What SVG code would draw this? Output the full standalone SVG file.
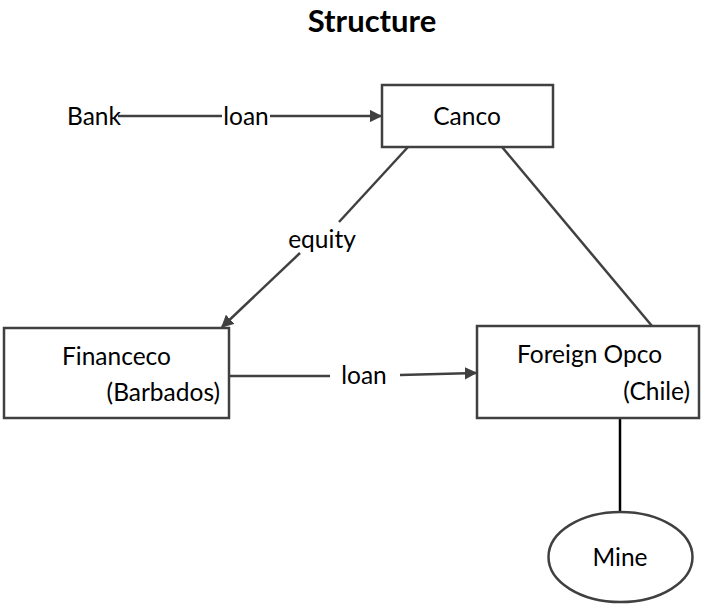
<svg xmlns="http://www.w3.org/2000/svg" width="702" height="605" viewBox="0 0 702 605">
  <style>
    text { font-family: Lato, "Liberation Sans", sans-serif; fill: #000; font-size: 24.5px; }
    .title { font-size: 31px; font-weight: bold; }
    .box { fill: #fff; stroke: #404040; stroke-width: 2.5; }
    .edge { fill: none; stroke: #404040; stroke-width: 2.5; }
  </style>
  <defs>
    <marker id="arrow" viewBox="0 0 10 10" refX="9" refY="5" markerWidth="5" markerHeight="5" orient="auto" markerUnits="strokeWidth">
      <path d="M0,0 L10,5 L0,10 z" fill="#404040"/>
    </marker>
  </defs>
  <rect width="702" height="605" fill="#fff"/>

  <text class="title" x="372" y="32" text-anchor="middle">Structure</text>

  <g id="connectors">
    <!-- Bank to Canco loan -->
    <line class="edge" x1="118" y1="116" x2="222" y2="116"/>
    <line class="edge" x1="270" y1="116" x2="381" y2="116" marker-end="url(#arrow)"/>
    <text x="246" y="125" text-anchor="middle">loan</text>
    <!-- Canco to Financeco equity -->
    <line class="edge" x1="408" y1="147" x2="339" y2="222"/>
    <line class="edge" x1="300" y1="253" x2="222" y2="327" marker-end="url(#arrow)"/>
    <text x="322" y="248" text-anchor="middle">equity</text>
    <!-- Canco to Foreign Opco -->
    <line class="edge" x1="502" y1="147" x2="652" y2="326"/>
    <!-- Financeco to Foreign Opco loan -->
    <line class="edge" x1="229" y1="376" x2="330" y2="376"/>
    <line class="edge" x1="400" y1="375" x2="476" y2="373" marker-end="url(#arrow)"/>
    <text x="364" y="384" text-anchor="middle">loan</text>
    <!-- Foreign Opco to Mine -->
    <line x1="620" y1="418" x2="620" y2="512" stroke="#000" stroke-width="2.5"/>
  </g>

  <g id="bank">
    <text x="67" y="125">Bank</text>
  </g>

  <g id="canco">
    <rect class="box" x="382" y="85" width="171" height="62"/>
    <text x="467" y="125" text-anchor="middle">Canco</text>
  </g>

  <g id="financeco">
    <rect class="box" x="4" y="328" width="225" height="90"/>
    <text x="62" y="365">Financeco</text>
    <text x="220" y="401" text-anchor="end">(Barbados)</text>
  </g>

  <g id="foreign-opco">
    <rect class="box" x="477" y="326" width="222" height="92"/>
    <text x="517" y="363">Foreign Opco</text>
    <text x="690" y="400" text-anchor="end">(Chile)</text>
  </g>

  <g id="mine">
    <ellipse class="box" cx="620.5" cy="557" rx="72" ry="45"/>
    <text x="620" y="566" text-anchor="middle">Mine</text>
  </g>
</svg>
